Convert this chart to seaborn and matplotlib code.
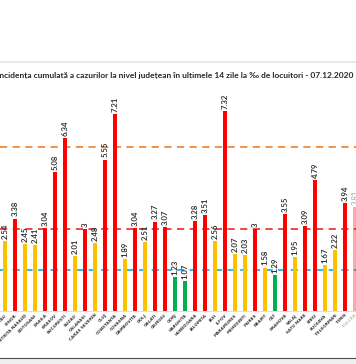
import matplotlib
matplotlib.use("Agg")
import matplotlib.pyplot as plt
import seaborn as sns
import pandas as pd
from matplotlib.lines import Line2D

counties = ["BACAU", "BIHOR", "BISTRITA NASAUD", "BOTOSANI", "BRAILA", "BRASOV",
            "BUCURESTI", "BUZAU", "CALARASI", "CARAS SEVERIN", "CLUJ", "CONSTANTA",
            "COVASNA", "DAMBOVITA", "DOLJ", "GALATI", "GIURGIU", "GORJ", "HARGHITA",
            "HUNEDOARA", "IALOMITA", "IASI", "ILFOV", "MARAMURES", "MEHEDINTI",
            "MURES", "NEAMT", "OLT", "PRAHOVA", "SALAJ", "SATU MARE", "SIBIU",
            "SUCEAVA", "TELEORMAN", "TIMIS", "TULCEA"]
values = [2.54, 3.38, 2.45, 2.41, 3.04, 5.08,
          6.34, 2.01, 3.00, 2.48, 5.55, 7.21,
          1.89, 3.04, 2.51, 3.27, 3.07, 1.23, 1.07,
          3.28, 3.51, 2.56, 7.32, 2.07, 2.03,
          3.00, 1.58, 1.29, 3.55, 1.95, 3.09, 4.79,
          1.67, 2.22, 3.94, 3.81]
thresholds = [1.5, 3.0, 6.0]
title = "Incidența cumulată a cazurilor la nivel județean în ultimele 14 zile la ‰ de locuitori - 07.12.2020"

def level(v):
    if v < 1.5:
        return "verde"
    if v < 3.0:
        return "galben"
    return "rosu"

df = pd.DataFrame({"judet": counties, "valoare": values,
                   "nivel": [level(v) for v in values]})
palette = {"verde": "#00B050", "galben": "#FFC000", "rosu": "#FF0000"}

W, H = 356, 364
fig = plt.figure(figsize=(W / 100, H / 100), dpi=100)
fig.patch.set_facecolor("white")

base_px = 310.5
ppu = 27.2
ymax = 8.0
top_px = base_px - ymax * ppu
ax = fig.add_axes([0, (H - base_px) / H, 1, (base_px - top_px) / H])

sns.barplot(data=df, x="judet", y="valoare", hue="nivel", palette=palette,
            order=counties, dodge=False, width=0.42, legend=False, ax=ax,
            saturation=1)

# fade last (cut) bar
for p in ax.patches:
    if abs(p.get_x() + p.get_width() / 2 - (len(counties) - 1)) < 0.01:
        p.set_alpha(0.35)

ax.set_xlim(-0.5, (W - 5) / 10)
ax.set_ylim(0, ymax)
ax.set_xlabel("")
ax.set_ylabel("")
ax.set_yticks([])
for s in ["top", "left", "right"]:
    ax.spines[s].set_visible(False)
ax.spines["bottom"].set_color("#D9D9D9")
ax.spines["bottom"].set_linewidth(0.6)
ax.set_facecolor("none")

ax.axhline(thresholds[2], color="#F4883A", lw=1.3, ls=(0, (4, 3)), zorder=0)
ax.axhline(thresholds[1], color="#F0383A", lw=1.3, ls=(0, (4, 3)), zorder=0)
ax.axhline(thresholds[0], color="#1FB2F0", lw=1.3, ls=(0, (4, 3)), zorder=0)

ax.tick_params(axis="x", length=0, pad=2.0)
ax.set_xticks(range(len(counties)))
ax.set_xticklabels(counties, rotation=45, ha="right", rotation_mode="anchor",
                   fontsize=3.0, color="#404040", fontweight="bold")
ax.get_xticklabels()[-1].set_alpha(0.35)

for i, v in enumerate(values):
    ax.text(i, v + 0.08, f"{v:g}", rotation=90, ha="center", va="bottom",
            fontsize=5.6, color="#333333", family="Lato", fontweight="bold",
            alpha=0.35 if i == len(values) - 1 else 1)

fig.text(-3 / W, 1 - 75.5 / H, title, ha="left", va="center", fontsize=6.05,
         family="Lato", fontweight="bold", color="#262626")

# frame lines of the screenshot
fig.add_artist(Line2D([0, 1], [1 - 62 / H, 1 - 62 / H], color="#E4E4E4", lw=1.2))
fig.add_artist(Line2D([0, 1], [1 - 357.5 / H, 1 - 357.5 / H], color="#505050", lw=0.8))
fig.patches.append(plt.Rectangle((0, 0), 1, 1 - 358 / H, transform=fig.transFigure,
                                 color="#EFEFEF", zorder=-1))

fig.savefig("out.png", dpi=100)
